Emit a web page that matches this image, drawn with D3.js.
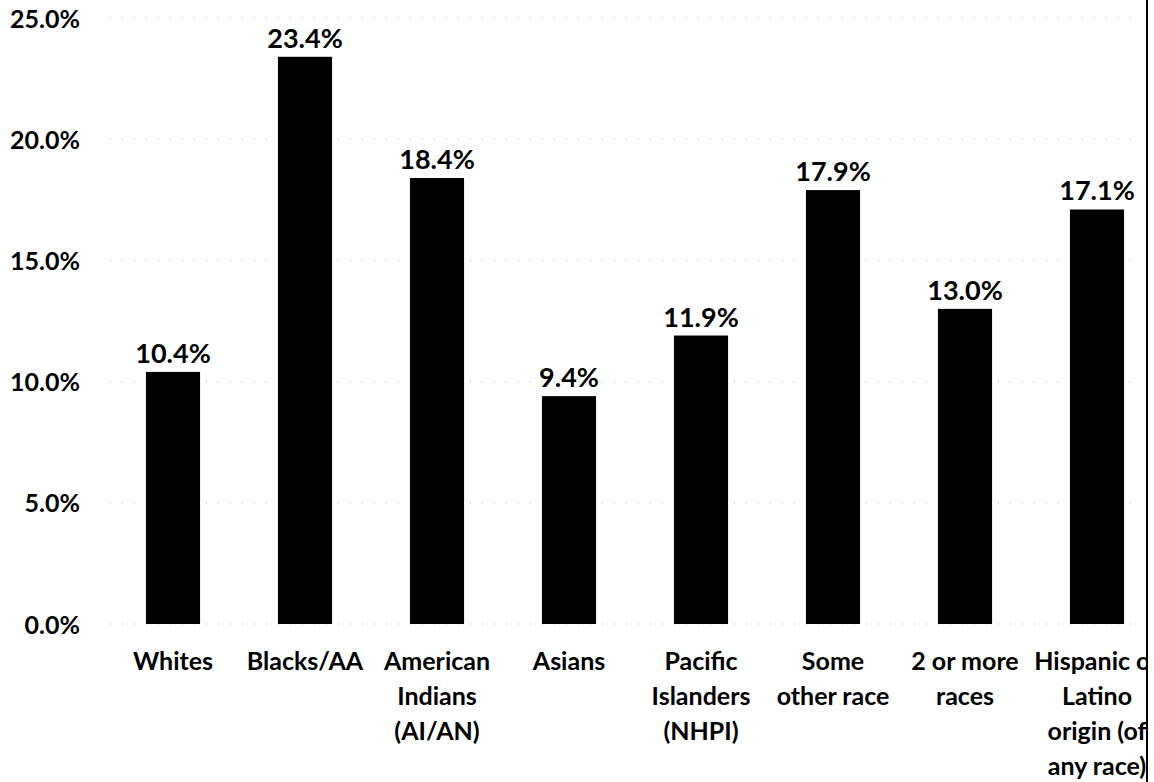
<!DOCTYPE html>
<html><head><meta charset="utf-8">
<script src="https://cdn.jsdelivr.net/npm/d3@7"></script>
<style>body{margin:0;background:#fff}svg{display:block}</style>
</head><body>
<script>
const categories = [
  ["Whites"],
  ["Blacks/AA"],
  ["American","Indians","(AI/AN)"],
  ["Asians"],
  ["Pacific","Islanders","(NHPI)"],
  ["Some","other race"],
  ["2 or more","races"],
  ["Hispanic or","Latino","origin (of","any race)"]
];
const values = [10.4, 23.4, 18.4, 9.4, 11.9, 17.9, 13.0, 17.1];
const yTicks = [0, 5, 10, 15, 20, 25];

const W = 1154, H = 782;
const svg = d3.select("body").append("svg").attr("width", W).attr("height", H);
const font = "Lato, 'Open Sans', sans-serif";

const x = d3.scaleBand().domain(d3.range(categories.length)).range([107, 1163]).paddingInner(0.59).paddingOuter(0.295);
const y = d3.scaleLinear().domain([0, 25]).range([624, 18]);

// faint dotted gridlines
svg.append("g").selectAll("line").data(yTicks).join("line")
  .attr("x1", 110).attr("x2", 1140)
  .attr("y1", d => y(d)).attr("y2", d => y(d))
  .attr("stroke", "#aaa").attr("stroke-width", 1).attr("stroke-dasharray", "1,11");

// y axis labels
const yAxis = d3.axisLeft(y).tickValues(yTicks).tickSize(0).tickPadding(0).tickFormat(d => d.toFixed(1) + "%");
const ga = svg.append("g").attr("transform", "translate(80,0)").call(yAxis);
ga.select(".domain").remove();
ga.selectAll("text").attr("font-family", font).attr("font-weight", "bold").attr("font-size", 25).attr("fill", "#000").attr("dy", "0.36em");

// bars
svg.append("g").selectAll("rect").data(values).join("rect")
  .attr("x", (d, i) => x(i)).attr("width", x.bandwidth())
  .attr("y", d => y(d)).attr("height", d => y(0) - y(d))
  .attr("fill", "#000");

// value labels
svg.append("g").selectAll("text").data(values).join("text")
  .attr("x", (d, i) => x(i) + x.bandwidth() / 2)
  .attr("y", d => y(d) - 9)
  .attr("text-anchor", "middle")
  .attr("font-family", font).attr("font-weight", "bold").attr("font-size", 27)
  .text(d => d.toFixed(1) + "%");

// category labels
const cg = svg.append("g").selectAll("text").data(categories).join("text")
  .attr("text-anchor", "middle")
  .attr("font-family", font).attr("font-weight", "bold").attr("font-size", 25)
  .attr("transform", (d, i) => `translate(${x(i) + x.bandwidth() / 2},670)`);
cg.selectAll("tspan").data(d => d).join("tspan")
  .attr("x", 0).attr("y", (d, j) => j * 35).text(d => d);

// right crop edge
svg.append("rect").attr("x", 1148).attr("y", 0).attr("width", 6).attr("height", H).attr("fill", "#fff");
svg.append("line").attr("x1", 1147).attr("x2", 1147).attr("y1", 0).attr("y2", H).attr("stroke", "#000").attr("stroke-width", 2);
</script>
</body></html>
